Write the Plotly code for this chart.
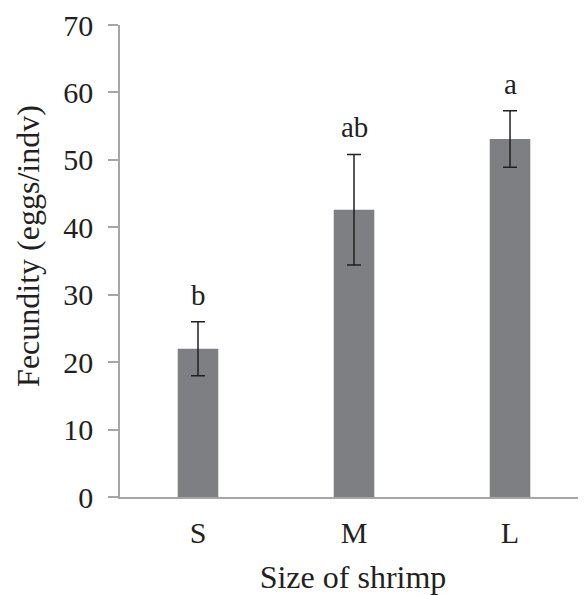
import plotly.graph_objects as go

categories = ["S", "M", "L"]
fecundity = [22.0, 42.6, 53.1]
errors = [4.0, 8.2, 4.2]
letters = ["b", "ab", "a"]

font_family = "Times New Roman, Liberation Serif, serif"
text_color = "#231f20"
axis_color = "#a6a6a6"
fs_tick = 30
fs_title = 32
fs_letter = 29

fig = go.Figure()
fig.add_trace(go.Bar(
    x=categories, y=fecundity,
    marker=dict(color="#7e7f83", line=dict(width=0)),
    width=0.26,
    error_y=dict(type="data", array=errors, visible=True, color="#231f20", thickness=1.5, width=7),
    showlegend=False,
))

for c, v, e, t in zip(categories, fecundity, errors, letters):
    fig.add_annotation(x=c, y=v + e, text=t, showarrow=False, yanchor="bottom", yshift=9,
                       font=dict(family=font_family, size=fs_letter, color=text_color))

# y-axis title (placed as annotation to match the reference's slight upward offset)
fig.add_annotation(xref="paper", yref="paper", x=0, y=0.532, xshift=-92,
                   xanchor="center", yanchor="middle", textangle=-90, showarrow=False,
                   text="Fecundity (eggs/indv)",
                   font=dict(family=font_family, size=fs_title, color=text_color))

fig.update_layout(
    width=578, height=587,
    margin=dict(l=112, r=0, t=17, b=98),
    paper_bgcolor="white", plot_bgcolor="white",
    font=dict(family=font_family, size=fs_tick, color=text_color),
)
fig.update_xaxes(
    range=[-0.5, 2.487],
    showline=True, linecolor=axis_color, linewidth=1.5,
    ticks="", showgrid=False, zeroline=False, ticklabelstandoff=8,
    tickfont=dict(size=fs_tick, family=font_family, color=text_color),
    title=dict(text="Size of shrimp", font=dict(size=fs_title, family=font_family, color=text_color), standoff=18),
)
fig.update_yaxes(
    range=[0, 70], dtick=10,
    showline=True, linecolor=axis_color, linewidth=1.5,
    ticks="outside", ticklen=10, tickcolor=axis_color, tickwidth=1.5,
    showgrid=False, zeroline=False, ticklabelstandoff=9,
    tickfont=dict(size=fs_tick, family=font_family, color=text_color),
)

fig.write_html("out.html")
